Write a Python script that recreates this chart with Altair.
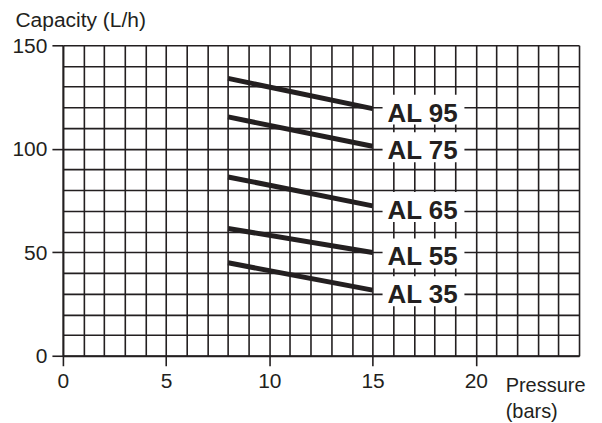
import json
import altair as alt
import pandas as pd

# ---- data ----
models = ["AL 95", "AL 75", "AL 65", "AL 55", "AL 35"]
pressure_start = [8, 8, 8, 8, 8]
pressure_end = [15, 15, 15, 15, 15]
capacity_start = [134.0, 115.4, 86.4, 61.5, 44.9]
capacity_end = [119.4, 101.2, 72.4, 49.9, 31.7]

x_grid = list(range(0, 26))          # grid every 1 bar
y_grid = list(range(0, 151, 10))     # grid every 10 L/h
x_labeled = [0, 5, 10, 15, 20]
y_labeled = [0, 50, 100, 150]

rows = []
for m, p0, p1, c0, c1 in zip(models, pressure_start, pressure_end, capacity_start, capacity_end):
    rows.append({"model": m, "pressure": p0, "capacity": c0})
    rows.append({"model": m, "pressure": p1, "capacity": c1})
lines_df = pd.DataFrame(rows)
labels_df = pd.DataFrame({"model": models, "pressure": pressure_end, "capacity": capacity_end})

ink = "#231f20"
font = "Liberation Sans, Arial, Helvetica, sans-serif"

x_test = f"indexof({json.dumps(x_labeled)}, datum.value) >= 0"
y_test = f"indexof({json.dumps(y_labeled)}, datum.value) >= 0"

x_axis = alt.Axis(
    values=x_grid, grid=True, gridColor=ink, gridWidth=1.6, gridOpacity=1,
    domainColor=ink, domainWidth=1.8, tickColor=ink, tickWidth=1.6, tickSize=10,
    tickOpacity={"condition": {"test": x_test, "value": 1}, "value": 0},
    labelExpr=f"{x_test} ? datum.label : ''",
    labelFont=font, labelFontSize=21, labelColor=ink, labelPadding=5,
    labelFlush=False, labelOverlap=False,
    title=["Pressure", "(bars)"], titleFont=font, titleFontSize=20, titleFontWeight="normal",
    titleColor=ink, titleAlign="left", titleBaseline="alphabetic", titleAnchor="start",
    titleX=443, titleY=36, titleLineHeight=26,
)
y_axis = alt.Axis(
    values=y_grid, grid=True, gridColor=ink, gridWidth=1.6, gridOpacity=1,
    domainColor=ink, domainWidth=1.8, tickColor=ink, tickWidth=1.6, tickSize=11,
    tickOpacity={"condition": {"test": y_test, "value": 1}, "value": 0},
    labelExpr=f"{y_test} ? datum.label : ''",
    labelFont=font, labelFontSize=21, labelColor=ink, labelPadding=5,
    labelFlush=False, labelOverlap=False, labelOffset=1,
    title="Capacity (L/h)", titleFont=font, titleFontSize=21, titleFontWeight="normal",
    titleColor=ink, titleAngle=0, titleAlign="left", titleBaseline="alphabetic",
    titleAnchor="start", titleX=-48, titleY=-19,
)

x_scale = alt.Scale(domain=[0, 25], nice=False, zero=False)
y_scale = alt.Scale(domain=[0, 150], nice=False)


def xe():
    return alt.X("pressure:Q", scale=x_scale, axis=x_axis)


def ye():
    return alt.Y("capacity:Q", scale=y_scale, axis=y_axis)


lines = alt.Chart(lines_df).mark_line(color=ink, strokeWidth=5, strokeCap="butt").encode(
    x=xe(), y=ye(), detail="model:N"
)

box_shape = "M-1,-0.366L1,-0.366L1,0.366L-1,0.366Z"
boxes = alt.Chart(labels_df).mark_point(
    shape=box_shape, size=82 * 82, filled=True, color="white", opacity=1,
    strokeWidth=0, xOffset=51, yOffset=1
).encode(x=xe(), y=ye())

texts = alt.Chart(labels_df).mark_text(
    font=font, fontSize=26, fontWeight="bold", color=ink, align="center",
    baseline="middle", dx=50, dy=5
).encode(x=xe(), y=ye(), text="model:N")

chart = alt.layer(lines, boxes, texts).properties(
    width=517, height=311,
    autosize=alt.AutoSizeParams(type="none"),
    padding={"left": 55, "top": 37, "right": 15, "bottom": 66},
    background="white",
).configure_view(stroke=None)

chart.save("out.html", embed_options={"renderer": "svg", "actions": False})
